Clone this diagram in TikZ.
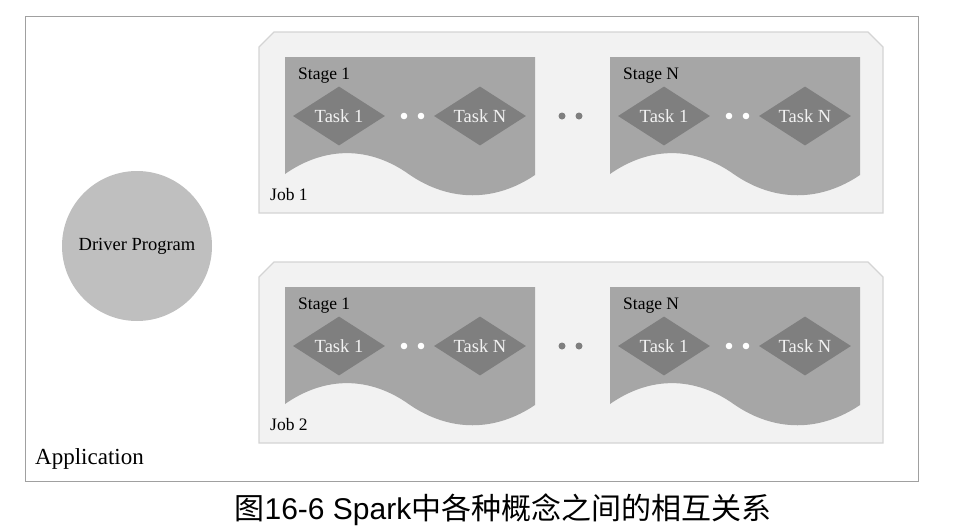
\documentclass[tikz,border=0pt]{standalone}
\usepackage{fontspec}
\setmainfont{Liberation Serif}
\setsansfont{Liberation Sans}
\newfontfamily\cjk{Noto Sans CJK SC}
\usepackage{tikz}
\usetikzlibrary{shapes.geometric}
\definecolor{aLine}{RGB}{160,160,160}
\definecolor{jFill}{RGB}{242,242,242}
\definecolor{jLine}{RGB}{212,212,212}
\definecolor{sFill}{RGB}{166,166,166}
\definecolor{tFill}{RGB}{127,127,127}
\definecolor{drvFill}{RGB}{191,191,191}
\tikzset{
  appframe/.style={draw=aLine, line width=1pt},
  jobbox/.style={draw=jLine, fill=jFill, line width=1.2pt},
  stagefill/.style={fill=sFill},
  task/.style={diamond, aspect=1.56, fill=tFill, minimum width=92pt,
               minimum height=59pt, inner sep=0pt, text=jFill,
               font=\fontsize{18.5}{21}\selectfont},
  lbl/.style={anchor=base west, inner sep=0pt, font=\fontsize{17.5}{20}\selectfont},
  driver/.style={circle, fill=drvFill, minimum size=150pt, inner sep=0pt,
                 font=\fontsize{18.5}{21}\selectfont},
  wdot/.style={fill=white},
  gdot/.style={fill=tFill},
}
% one stage: x, y of top-left corner (inside a job), name, label
\newcommand{\StageBox}[4]{%
  \begin{scope}[shift={(#1,#2)}]
    \fill[stagefill] (0,0) -- (250,0) -- (250,118)
      .. controls (210,145) and (165,145) .. (125,118)
      .. controls (85,89) and (40,89) .. (0,117) -- cycle;
    \node[lbl] (#3-lbl) at (13,22) {#4};
    \node[task] (#3-t1) at (54,59) {Task 1};
    \node[task] (#3-tn) at (195,59) {Task N};
    \fill[wdot] (119,59) circle (3.3) (136,59) circle (3.3);
  \end{scope}}
% one job: y of top edge, name, label
\newcommand{\JobBox}[3]{%
  \begin{scope}[shift={(259,#1)}]
    \filldraw[jobbox] (0,15) -- (15,0) -- (609,0) -- (624,15)
      -- (624,181) -- (0,181) -- cycle;
    \node[lbl] (#2-lbl) at (11,168) {#3};
    \StageBox{26}{25}{#2-s1}{Stage 1}
    \StageBox{351}{25}{#2-sn}{Stage N}
    \fill[gdot] (303,84) circle (3.5) (320,84) circle (3.5);
  \end{scope}}

\begin{document}
\begin{tikzpicture}[x=1pt,y=-1pt]
  \useasboundingbox (0,0) rectangle (959,528);

  % application frame
  \draw[appframe] (25,16) rectangle (918,481);
  \node[lbl, font=\fontsize{23}{26}\selectfont] (app) at (35,464) {Application};

  % driver
  \node[driver] (drv) at (137,246) {Driver Program};

  % jobs
  \JobBox{32}{j1}{Job 1}
  \JobBox{262}{j2}{Job 2}

  % caption
  \node[font=\fontsize{30}{34}\selectfont] (cap) at (503,510)
    {{\cjk 图}{\sffamily 16-6 Spark}{\cjk 中各种概念之间的相互关系}};
\end{tikzpicture}
\end{document}
